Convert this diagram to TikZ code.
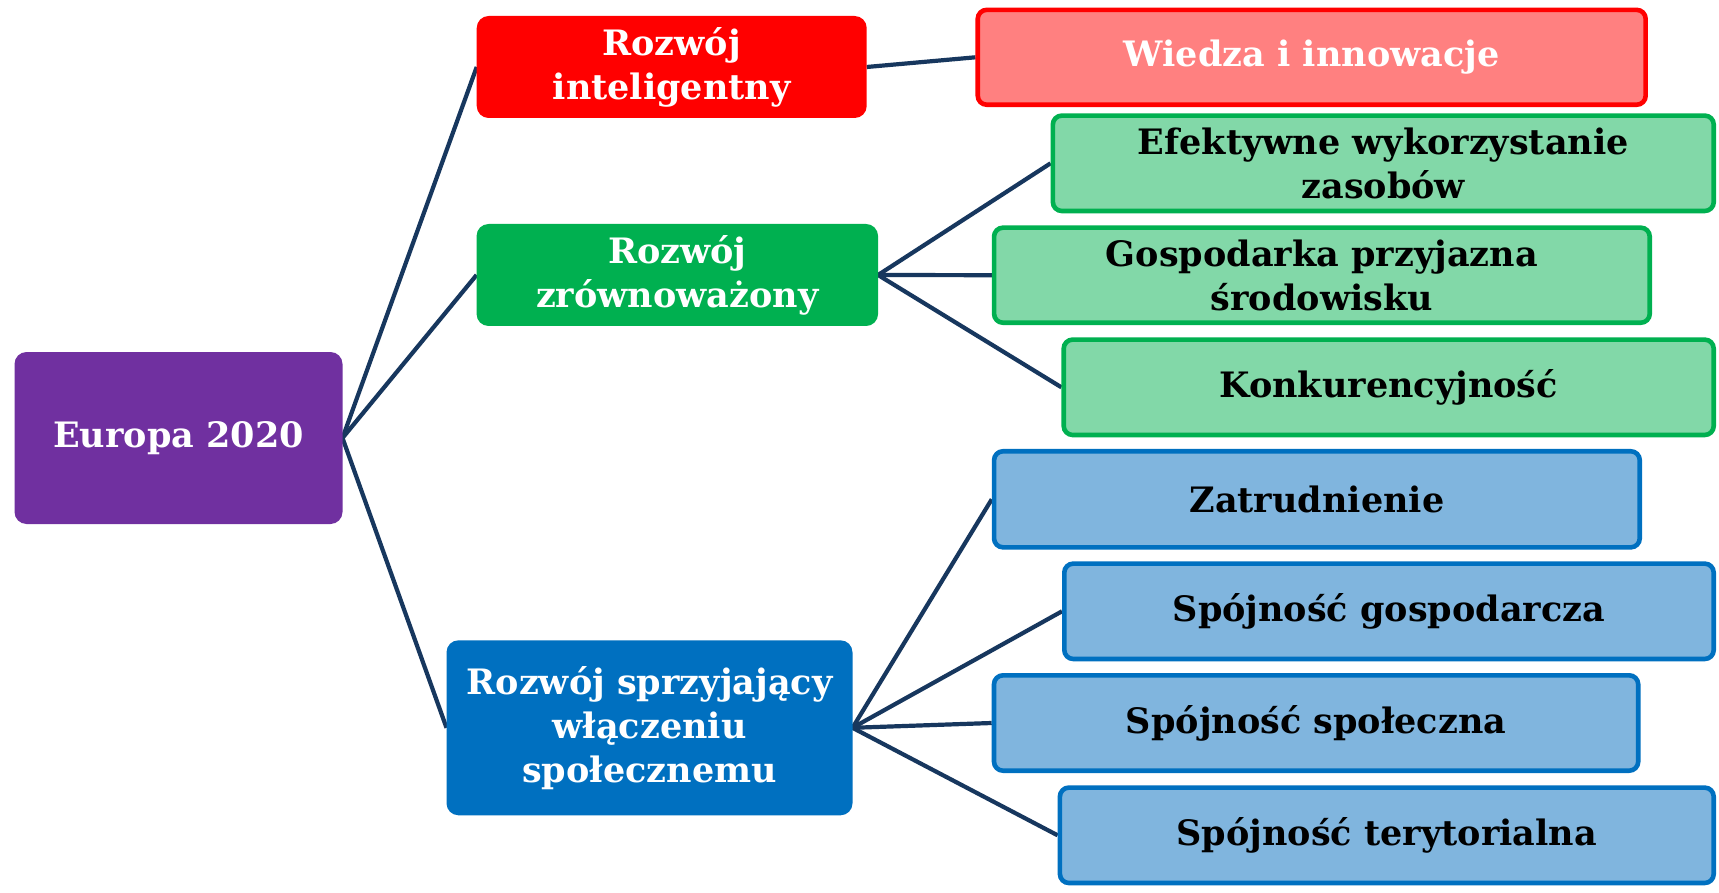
\documentclass[tikz,border=0pt]{standalone}
\usepackage{fontspec}
\setmainfont{DejaVu Serif}
\usetikzlibrary{backgrounds}
\definecolor{cpurple}{HTML}{7030A0}
\definecolor{cred}{HTML}{FF0000}
\definecolor{cgreen}{HTML}{00B050}
\definecolor{cblue}{HTML}{0070C0}
\definecolor{lred}{HTML}{FF8080}
\definecolor{lgreen}{HTML}{82D8A8}
\definecolor{lblue}{HTML}{80B5DE}
\definecolor{navy}{HTML}{17375E}
\newcommand{\boxfont}{\fontsize{35}{44}\selectfont\bfseries}
\tikzset{
  mainbox/.style={rounded corners=12pt, inner sep=0pt, outer sep=0pt, align=center, text=white, font=\boxfont},
  subbox/.style={draw, line width=4.6pt, rounded corners=9pt, inner sep=0pt, align=center, text=black, font=\boxfont},
  link/.style={draw=navy, line width=4.2pt}
}
\begin{document}
\begin{tikzpicture}[x=1pt,y=-1pt]
\path[use as bounding box] (0,0) rectangle (1719,893);
% main boxes
\node[mainbox, fill=cpurple, minimum width=328pt, minimum height=172pt] (eu) at (178.5,438) {\raisebox{-3pt}{Europa 2020}};
\node[mainbox, fill=cred, minimum width=390pt, minimum height=102pt] (ri) at (671.7,67) {Rozwój\\inteligentny};
\node[mainbox, fill=cgreen, minimum width=401.5pt, minimum height=102pt] (rz) at (677.3,275) {Rozwój\\zrównoważony};
\node[mainbox, fill=cblue, minimum width=406pt, minimum height=175pt] (rs) at (649.5,727.8) {Rozwój sprzyjający\\włączeniu\\społecznemu};
% sub boxes
\node[subbox, draw=cred, fill=lred, text=white, minimum width=667.9pt, minimum height=94.9pt] (wi) at (1311.7,57.3) {Wiedza i innowacje};
\node[subbox, draw=cgreen, fill=lgreen, minimum width=660.9pt, minimum height=95.4pt] (ef) at (1383.3,163.3) {Efektywne wykorzystanie\\zasobów};
\node[subbox, draw=cgreen, fill=lgreen, minimum width=655.7pt, minimum height=95.1pt] (go) at (1321.9,275.2) {Gospodarka przyjazna\\środowisku};
\node[subbox, draw=cgreen, fill=lgreen, minimum width=650pt, minimum height=95.4pt] (ko) at (1388.7,387.3) {Konkurencyjność};
\node[subbox, draw=cblue, fill=lblue, minimum width=645.7pt, minimum height=96.1pt] (za) at (1316.9,499.3) {Zatrudnienie};
\node[subbox, draw=cblue, fill=lblue, minimum width=649.4pt, minimum height=95.4pt] (sg) at (1389,611.3) {Spójność gospodarcza};
\node[subbox, draw=cblue, fill=lblue, minimum width=644.2pt, minimum height=95.4pt] (ss) at (1316.1,723) {Spójność społeczna};
\node[subbox, draw=cblue, fill=lblue, minimum width=653.8pt, minimum height=95.4pt] (st) at (1386.8,835.3) {Spójność terytorialna};
% connectors
\begin{scope}[on background layer]
\fill[white] (0,0) rectangle (1719,893);
\draw[link] (eu.east) -- (ri.west);
\draw[link] (eu.east) -- (rz.west);
\draw[link] (eu.east) -- (rs.west);
\draw[link] (ri.east) -- (wi.west);
\draw[link] (rz.east) -- (ef.west);
\draw[link] (rz.east) -- (go.west);
\draw[link] (rz.east) -- (ko.west);
\draw[link] (rs.east) -- (za.west);
\draw[link] (rs.east) -- (sg.west);
\draw[link] (rs.east) -- (ss.west);
\draw[link] (rs.east) -- (st.west);
\end{scope}
\end{tikzpicture}
\end{document}
